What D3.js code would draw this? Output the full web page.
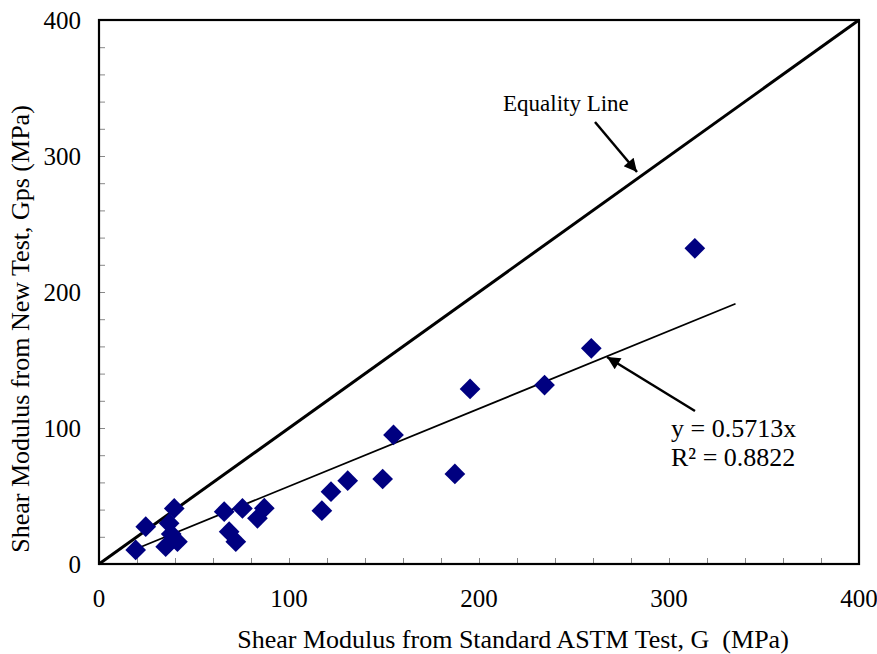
<!DOCTYPE html>
<html>
<head>
<meta charset="utf-8">
<script src="https://cdn.jsdelivr.net/npm/d3@7"></script>
<style>
  html, body { margin: 0; padding: 0; background: #fff; }
  svg text { font-family: "Liberation Serif", "Times New Roman", serif; fill: #000; white-space: pre; }
</style>
</head>
<body>
<svg id="chart" width="877" height="654"></svg>
<script>
// Shear modulus: standard ASTM test (G) vs. new test (Gps), MPa
const astmG = [313.6, 259.1, 234.5, 195.3, 155.0, 187.3, 149.3, 130.9, 122.1, 117.3,
               87.0, 83.4, 75.5, 65.9, 68.5, 72.0, 39.6, 24.6, 19.3, 36.9, 35.1, 41.3, 38.0];
const newGps = [232.1, 158.6, 131.6, 128.7, 94.9, 66.2, 62.5, 61.3, 53.2, 39.2,
                41.0, 33.6, 40.9, 38.5, 23.8, 16.4, 40.9, 27.4, 10.3, 29.9, 12.7, 16.4, 22.0];

// Linear fit through the origin
const slope = 0.5713;
const rSquared = 0.8822;
const fitRange = [20, 335];

const axisDomain = [0, 400];
const majorTicks = [0, 100, 200, 300, 400];
const minorTicks = d3.range(0, 401, 20);

const xTitle = "Shear Modulus from Standard ASTM Test, G  (MPa)";
const yTitle = "Shear Modulus from New Test, Gps (MPa)";
const equalityLabel = "Equality Line";

const svg = d3.select("#chart");
const plotLeft = 99, plotRight = 859, plotTop = 20, plotBottom = 564;

const x = d3.scaleLinear().domain(axisDomain).range([plotLeft, plotRight]);
const y = d3.scaleLinear().domain(axisDomain).range([plotBottom, plotTop]);

// arrowhead marker
svg.append("defs").append("marker")
  .attr("id", "head")
  .attr("viewBox", "0 0 10 10")
  .attr("refX", 10).attr("refY", 5)
  .attr("markerUnits", "userSpaceOnUse")
  .attr("markerWidth", 16).attr("markerHeight", 13)
  .attr("orient", "auto")
  .append("path").attr("d", "M0,0 L10,5 L0,10 Z").attr("fill", "#000");

// minor ticks, pointing into the plot
const yTicks = d3.axisRight(y).tickValues(minorTicks).tickSize(6).tickFormat("");
svg.append("g").attr("transform", `translate(${plotLeft},0)`).call(yTicks)
  .call(g => g.select(".domain").remove())
  .call(g => g.selectAll("line").attr("stroke", "#888").attr("stroke-width", 1));
const xTicks = d3.axisTop(x).tickValues(minorTicks).tickSize(6).tickFormat("");
svg.append("g").attr("transform", `translate(0,${plotBottom})`).call(xTicks)
  .call(g => g.select(".domain").remove())
  .call(g => g.selectAll("line").attr("stroke", "#888").attr("stroke-width", 1));

// tick labels
svg.append("g").selectAll("text").data(majorTicks).join("text")
  .attr("x", 81).attr("y", d => y(d)).attr("dy", "0.35em")
  .attr("text-anchor", "end").attr("font-size", 25).text(d => d);
svg.append("g").selectAll("text").data(majorTicks).join("text")
  .attr("x", d => x(d)).attr("y", 607)
  .attr("text-anchor", "middle").attr("font-size", 25).text(d => d);

// equality line
svg.append("line")
  .attr("x1", x(axisDomain[0])).attr("y1", y(axisDomain[0]))
  .attr("x2", x(axisDomain[1])).attr("y2", y(axisDomain[1]))
  .attr("stroke", "#000").attr("stroke-width", 3);

// fitted trend line
svg.append("line")
  .attr("x1", x(fitRange[0])).attr("y1", y(slope * fitRange[0]))
  .attr("x2", x(fitRange[1])).attr("y2", y(slope * fitRange[1]))
  .attr("stroke", "#000").attr("stroke-width", 1.8);

// data points as diamonds
const diamond = d3.symbol().type(d3.symbolSquare).size(215);
svg.append("g").selectAll("path").data(astmG.map((g, i) => [g, newGps[i]])).join("path")
  .attr("d", diamond)
  .attr("transform", d => `translate(${x(d[0])},${y(d[1])}) rotate(45)`)
  .attr("fill", "#000080");

// plot frame
svg.append("rect")
  .attr("x", plotLeft).attr("y", plotTop)
  .attr("width", plotRight - plotLeft).attr("height", plotBottom - plotTop)
  .attr("fill", "none").attr("stroke", "#000").attr("stroke-width", 2.2);

// annotations
svg.append("text").attr("x", 503).attr("y", 111).attr("font-size", 23).text(equalityLabel);
svg.append("line")
  .attr("x1", 595).attr("y1", 122).attr("x2", 637).attr("y2", 172)
  .attr("stroke", "#000").attr("stroke-width", 2.5).attr("marker-end", "url(#head)");

svg.append("line")
  .attr("x1", 695).attr("y1", 411).attr("x2", 607).attr("y2", 357)
  .attr("stroke", "#000").attr("stroke-width", 2.5).attr("marker-end", "url(#head)");
svg.append("text").attr("x", 671).attr("y", 437).attr("font-size", 26)
  .text(`y = ${slope}x`);
svg.append("text").attr("x", 671).attr("y", 466).attr("font-size", 26)
  .text(`R² = ${rSquared}`);

// axis titles
svg.append("text").attr("x", 513).attr("y", 648)
  .attr("text-anchor", "middle").attr("font-size", 26).text(xTitle);
svg.append("text")
  .attr("transform", `translate(29,${329}) rotate(-90)`)
  .attr("text-anchor", "middle").attr("font-size", 26).text(yTitle);
</script>
</body>
</html>
